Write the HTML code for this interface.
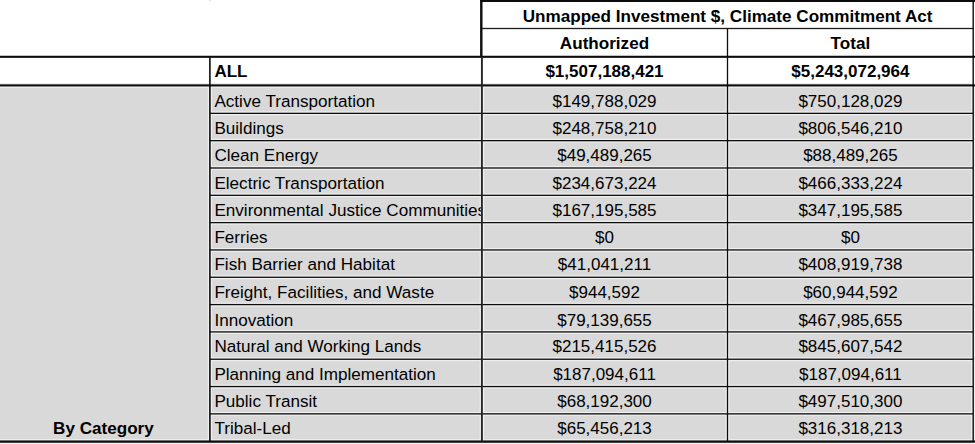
<!DOCTYPE html>
<html lang="en"><head><meta charset="utf-8"><title>Unmapped Investment $, Climate Commitment Act</title>
<style>html,body{margin:0;padding:0;background:#fff;overflow:hidden}svg{display:block}text{font-family:"Liberation Sans",Arial,Helvetica,sans-serif;font-size:17px;fill:#000}.b{font-weight:bold}.c{text-anchor:middle}.t{font-size:17.1px}</style></head><body>
<svg width="975" height="444" viewBox="0 0 975 444">
<rect x="0" y="0" width="975" height="444" fill="#fff"/>
<rect x="0" y="85" width="973.2" height="356.6" fill="#d9d9d9"/>
<defs><clipPath id="nc"><rect x="209.9" y="0" width="270.9" height="444"/></clipPath></defs>
<rect x="0.00" y="83.05" width="973.20" height="4.70" fill="#efefef"/>
<rect x="209.90" y="111.40" width="763.30" height="3.90" fill="#efefef"/>
<rect x="209.90" y="138.72" width="763.30" height="3.90" fill="#efefef"/>
<rect x="209.90" y="166.04" width="763.30" height="3.90" fill="#efefef"/>
<rect x="209.90" y="193.36" width="763.30" height="3.90" fill="#efefef"/>
<rect x="209.90" y="220.68" width="763.30" height="3.90" fill="#efefef"/>
<rect x="209.90" y="248.00" width="763.30" height="3.90" fill="#efefef"/>
<rect x="209.90" y="275.32" width="763.30" height="3.90" fill="#efefef"/>
<rect x="209.90" y="302.64" width="763.30" height="3.90" fill="#efefef"/>
<rect x="209.90" y="329.96" width="763.30" height="3.90" fill="#efefef"/>
<rect x="209.90" y="357.28" width="763.30" height="3.90" fill="#efefef"/>
<rect x="209.90" y="384.60" width="763.30" height="3.90" fill="#efefef"/>
<rect x="209.90" y="411.92" width="763.30" height="3.90" fill="#efefef"/>
<rect x="0.00" y="439.15" width="973.20" height="4.90" fill="#efefef"/>
<rect x="479.65" y="86.00" width="4.50" height="355.60" fill="#efefef"/>
<rect x="207.80" y="86.00" width="4.20" height="355.60" fill="#efefef"/>
<rect x="725.55" y="86.00" width="3.90" height="355.60" fill="#efefef"/>
<rect x="971.20" y="86.00" width="4.00" height="355.60" fill="#efefef"/>
<rect x="480.20" y="0.00" width="494.80" height="2.00" fill="#0c0c0c"/>
<rect x="481.40" y="27.85" width="491.80" height="1.30" fill="#1c1c1c"/>
<rect x="0.00" y="55.75" width="975.00" height="2.10" fill="#0c0c0c"/>
<rect x="0.00" y="84.35" width="975.00" height="2.10" fill="#0c0c0c"/>
<rect x="209.90" y="112.70" width="763.30" height="1.30" fill="#0c0c0c"/>
<rect x="209.90" y="140.02" width="763.30" height="1.30" fill="#0c0c0c"/>
<rect x="209.90" y="167.34" width="763.30" height="1.30" fill="#0c0c0c"/>
<rect x="209.90" y="194.66" width="763.30" height="1.30" fill="#0c0c0c"/>
<rect x="209.90" y="221.98" width="763.30" height="1.30" fill="#0c0c0c"/>
<rect x="209.90" y="249.30" width="763.30" height="1.30" fill="#0c0c0c"/>
<rect x="209.90" y="276.62" width="763.30" height="1.30" fill="#0c0c0c"/>
<rect x="209.90" y="303.94" width="763.30" height="1.30" fill="#0c0c0c"/>
<rect x="209.90" y="331.26" width="763.30" height="1.30" fill="#0c0c0c"/>
<rect x="209.90" y="358.58" width="763.30" height="1.30" fill="#0c0c0c"/>
<rect x="209.90" y="385.90" width="763.30" height="1.30" fill="#0c0c0c"/>
<rect x="209.90" y="413.22" width="763.30" height="1.30" fill="#0c0c0c"/>
<rect x="0.00" y="440.45" width="975.00" height="2.30" fill="#0c0c0c"/>
<rect x="209" y="0" width="2" height="1" fill="#e2e2e2"/>
<rect x="480.10" y="0.00" width="2.40" height="57.00" fill="#0c0c0c"/>
<rect x="480.95" y="57.00" width="1.90" height="384.60" fill="#262626"/>
<rect x="209.10" y="56.00" width="1.60" height="385.60" fill="#0c0c0c"/>
<rect x="726.85" y="28.70" width="1.30" height="412.90" fill="#0c0c0c"/>
<rect x="972.50" y="0.00" width="1.40" height="441.60" fill="#0c0c0c"/>
<text class="b c t" x="727.6" y="22.3">Unmapped Investment $, Climate Commitment Act</text>
<text class="b c t" x="604.5" y="48.6">Authorized</text>
<text class="b c t" x="850.4" y="48.6">Total</text>
<text class="b" x="214.4" y="77.2">ALL</text>
<text class="b c" x="604.5" y="77.2">$1,507,188,421</text>
<text class="b c" x="850.4" y="77.2">$5,243,072,964</text>
<g clip-path="url(#nc)">
<text class="t" x="214.4" y="107.0">Active Transportation</text>
<text class="t" x="214.4" y="134.0">Buildings</text>
<text class="t" x="214.4" y="161.0">Clean Energy</text>
<text class="t" x="214.4" y="189.0">Electric Transportation</text>
<text class="t" x="214.4" y="216.0">Environmental Justice Communities</text>
<text class="t" x="214.4" y="243.0">Ferries</text>
<text class="t" x="214.4" y="270.0">Fish Barrier and Habitat</text>
<text class="t" x="214.4" y="298.0">Freight, Facilities, and Waste</text>
<text class="t" x="214.4" y="326.0">Innovation</text>
<text class="t" x="214.4" y="352.0">Natural and Working Lands</text>
<text class="t" x="214.4" y="380.0">Planning and Implementation</text>
<text class="t" x="214.4" y="407.0">Public Transit</text>
<text class="t" x="214.4" y="434.0">Tribal-Led</text>
</g>
<text class="c" x="604.5" y="107.0">$149,788,029</text>
<text class="c" x="850.4" y="107.0">$750,128,029</text>
<text class="c" x="604.5" y="134.0">$248,758,210</text>
<text class="c" x="850.4" y="134.0">$806,546,210</text>
<text class="c" x="604.5" y="161.0">$49,489,265</text>
<text class="c" x="850.4" y="161.0">$88,489,265</text>
<text class="c" x="604.5" y="189.0">$234,673,224</text>
<text class="c" x="850.4" y="189.0">$466,333,224</text>
<text class="c" x="604.5" y="216.0">$167,195,585</text>
<text class="c" x="850.4" y="216.0">$347,195,585</text>
<text class="c" x="604.5" y="243.0">$0</text>
<text class="c" x="850.4" y="243.0">$0</text>
<text class="c" x="604.5" y="270.0">$41,041,211</text>
<text class="c" x="850.4" y="270.0">$408,919,738</text>
<text class="c" x="604.5" y="298.0">$944,592</text>
<text class="c" x="850.4" y="298.0">$60,944,592</text>
<text class="c" x="604.5" y="326.0">$79,139,655</text>
<text class="c" x="850.4" y="326.0">$467,985,655</text>
<text class="c" x="604.5" y="352.0">$215,415,526</text>
<text class="c" x="850.4" y="352.0">$845,607,542</text>
<text class="c" x="604.5" y="380.0">$187,094,611</text>
<text class="c" x="850.4" y="380.0">$187,094,611</text>
<text class="c" x="604.5" y="407.0">$68,192,300</text>
<text class="c" x="850.4" y="407.0">$497,510,300</text>
<text class="c" x="604.5" y="434.0">$65,456,213</text>
<text class="c" x="850.4" y="434.0">$316,318,213</text>
<text class="b c t" x="103.4" y="434">By Category</text>
</svg></body></html>
